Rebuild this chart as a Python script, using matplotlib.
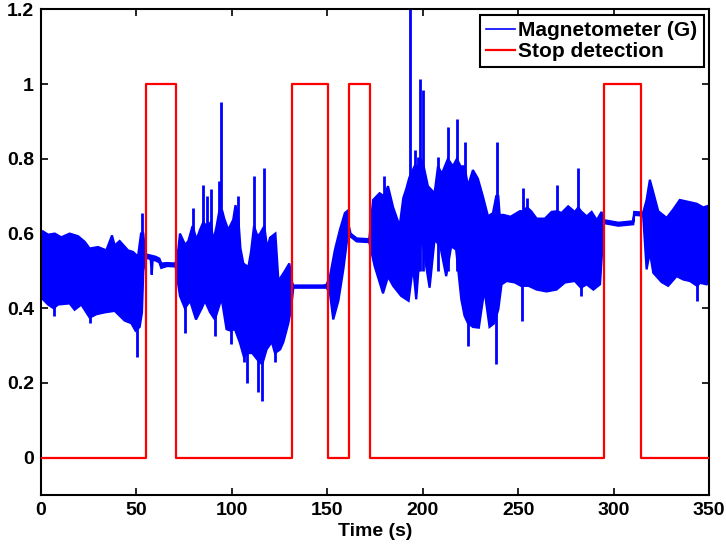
import numpy as np
import matplotlib
matplotlib.use("Agg")
import matplotlib.pyplot as plt

# magnetometer upper envelope (time s, value G)
hi_t = [0.0, 1.0, 3.7, 7.2, 10.6, 15.0, 19.4, 22.9, 25.5, 29.9, 34.2, 37.2, 38.6, 41.2,
        45.6, 48.2, 50.8, 52.4, 53.6, 54.5,
        56.0, 60.0, 62.0, 63.0, 66.0, 70.5,
        72.0, 72.8, 75.5, 77.2, 79.4, 81.5, 83.3, 85.0, 86.8, 88.9, 90.3, 92.0, 93.4, 95.0,
        96.0, 98.1, 100.7, 101.9, 103.4, 104.5, 106.0, 108.6, 110.0, 111.6, 113.4, 114.8,
        117.0, 118.5, 120.0, 122.8, 124.4, 127.8, 130.1, 131.5,
        132.2, 148.0, 149.6,
        151.4, 154.0, 156.6, 159.2, 160.4, 161.3,
        162.2, 165.4, 172.0,
        174.0, 177.4, 179.7, 181.8, 184.5, 187.9, 189.8, 191.4, 193.0, 195.7, 197.4, 199.0,
        200.5, 202.7, 206.2, 208.0, 210.0, 213.2, 215.8, 217.9, 219.8, 221.9, 223.7, 226.3,
        228.9, 231.5, 234.2, 236.8, 238.5, 239.6, 240.3, 242.3, 246.0, 250.9, 252.6, 254.7,
        256.8, 259.7, 264.0, 267.5, 270.6, 272.7, 276.2, 279.7, 281.5, 282.9, 285.9, 288.5,
        291.2, 293.7,
        294.9, 302.5, 310.3, 310.8, 315.5,
        317.3, 319.0, 320.8, 323.4, 327.8, 331.3, 334.7, 338.2, 343.5, 347.0, 350.0]
hi_v = [0.60, 0.606, 0.597, 0.60, 0.59, 0.60, 0.593, 0.578, 0.56, 0.564, 0.555, 0.595, 0.568, 0.58,
        0.555, 0.551, 0.538, 0.60, 0.60, 0.545,
        0.543, 0.538, 0.533, 0.52, 0.521, 0.52,
        0.56, 0.60, 0.57, 0.58, 0.62, 0.584, 0.61, 0.63, 0.62, 0.63, 0.58, 0.62, 0.66, 0.66,
        0.64, 0.61, 0.637, 0.676, 0.64, 0.56, 0.52, 0.51, 0.55, 0.62, 0.593, 0.60,
        0.62, 0.56, 0.589, 0.60, 0.473, 0.50, 0.52, 0.47,
        0.461, 0.461, 0.463,
        0.486, 0.557, 0.61, 0.655, 0.66, 0.62,
        0.600, 0.587, 0.585,
        0.69, 0.708, 0.70, 0.727, 0.67, 0.62, 0.695, 0.72, 0.75, 0.78, 0.78, 0.80,
        0.78, 0.727, 0.708, 0.78, 0.76, 0.80, 0.78, 0.80, 0.78, 0.78, 0.727, 0.77,
        0.747, 0.70, 0.646, 0.655, 0.70, 0.70, 0.65, 0.65, 0.645, 0.66, 0.66, 0.67,
        0.66, 0.64, 0.64, 0.658, 0.66, 0.655, 0.673, 0.658, 0.67, 0.66, 0.646, 0.658,
        0.636, 0.658,
        0.636, 0.629, 0.633, 0.658, 0.656,
        0.69, 0.744, 0.71, 0.66, 0.642, 0.665, 0.69, 0.686, 0.68, 0.67, 0.675]

# magnetometer lower envelope
lo_t = [0.0, 1.0, 3.7, 6.6, 8.9, 15.0, 17.6, 21.1, 25.5, 29.0, 33.4, 38.6, 43.8, 47.3,
        49.5, 51.7, 52.9, 53.6, 54.5,
        56.0, 57.5, 58.0, 58.5, 60.0, 62.0, 63.0, 66.0, 70.5,
        72.8, 75.4, 78.1, 81.2, 84.2, 85.9, 88.5, 91.1, 94.6, 97.2, 99.4, 101.6, 104.2,
        106.3, 108.1, 110.7, 113.8, 115.9, 118.2, 120.9, 122.6, 125.3, 127.0, 129.6, 131.0,
        132.2, 148.0, 149.6,
        151.4, 153.1, 155.8, 158.4, 160.4, 161.3,
        162.2, 165.4, 172.0,
        174.8, 179.2, 181.8, 184.5, 188.7, 192.6, 194.9, 196.6, 199.2, 201.8, 203.6, 206.2,
        209.2, 212.3, 214.9, 217.5, 220.2, 221.9, 223.7, 226.3, 229.4, 232.3, 235.0, 237.5,
        239.6, 241.3, 244.0, 248.3, 251.5, 252.8, 255.5, 259.7, 264.9, 270.1, 274.5,
        279.7, 282.9, 285.9, 289.4, 292.9,
        294.9, 302.5, 310.3, 310.8, 315.5,
        317.3, 319.0, 320.8, 325.2, 328.6, 333.0, 336.5, 340.0, 343.8, 345.3, 348.8, 350.0]
lo_v = [0.43, 0.424, 0.41, 0.40, 0.41, 0.413, 0.396, 0.41, 0.375, 0.384, 0.389, 0.393, 0.367, 0.36,
        0.34, 0.35, 0.389, 0.50, 0.53,
        0.535, 0.53, 0.49, 0.53, 0.528, 0.523, 0.508, 0.513, 0.512,
        0.433, 0.40, 0.42, 0.37, 0.40, 0.42, 0.39, 0.37, 0.427, 0.344, 0.34, 0.344, 0.308,
        0.27, 0.28, 0.28, 0.26, 0.25, 0.29, 0.31, 0.28, 0.29, 0.31, 0.36, 0.40,
        0.455, 0.455, 0.455,
        0.44, 0.37, 0.42, 0.504, 0.584, 0.59,
        0.592, 0.579, 0.577,
        0.513, 0.44, 0.485, 0.46, 0.433, 0.42, 0.513, 0.424, 0.60, 0.513, 0.455, 0.584,
        0.566, 0.486, 0.566, 0.557, 0.424, 0.38, 0.36, 0.35, 0.348, 0.45, 0.35, 0.36,
        0.397, 0.464, 0.473, 0.469, 0.46, 0.46, 0.46, 0.45, 0.445, 0.45, 0.469,
        0.473, 0.455, 0.464, 0.45, 0.464,
        0.628, 0.621, 0.625, 0.65, 0.648,
        0.504, 0.55, 0.495, 0.47, 0.46, 0.486, 0.477, 0.473, 0.46, 0.468, 0.464, 0.47]

# single-sample spikes sticking out of the band
spike_up_t = [52.9, 79.4, 85.0, 86.8, 88.9, 93.4, 94.3, 103.4, 111.6, 117.0, 179.7, 193.3,
              195.7, 197.4, 198.7, 200.1, 208.0, 213.2, 217.9, 221.9, 239.0, 252.6, 254.7,
              270.6, 281.5]
spike_up_v = [0.655, 0.668, 0.73, 0.70, 0.718, 0.74, 0.953, 0.70, 0.753, 0.775, 0.753, 1.25,
              0.824, 0.806, 1.015, 0.984, 0.806, 0.886, 0.908, 0.846, 0.846, 0.722, 0.695,
              0.73, 0.775]
spike_dn_t = [6.6, 25.5, 50.5, 75.4, 91.1, 99.4, 106.3, 108.1, 113.8, 115.9, 122.6, 223.7,
              238.5, 252.1, 282.9, 343.8]
spike_dn_v = [0.38, 0.36, 0.27, 0.335, 0.326, 0.304, 0.255, 0.20, 0.175, 0.153, 0.255, 0.30,
              0.25, 0.366, 0.433, 0.42]

# stop detection (0/1), change points
stop_t = [0, 55.2, 70.5, 131.5, 150.4, 161.5, 172.3, 295.0, 314.6, 350]
stop_v = [0, 1, 0, 1, 0, 1, 0, 1, 0, 0]

xticks = [0, 50, 100, 150, 200, 250, 300, 350]
yticks = [0, 0.2, 0.4, 0.6, 0.8, 1, 1.2]
ytick_labels = ['0', '0.2', '0.4', '0.6', '0.8', '1', '1.2']

plt.rcParams['font.family'] = ['Liberation Sans', 'DejaVu Sans']
plt.rcParams['font.weight'] = 'bold'

fig = plt.figure(figsize=(7.26, 5.48), dpi=100)
ax = fig.add_axes([0.0565, 0.0967, 0.9201, 0.886])

blue = '#0000ff'
# noisy band as polygon: upper path forward, lower path back
px = np.r_[hi_t, lo_t[::-1]]
py = np.r_[hi_v, lo_v[::-1]]
ax.fill(px, py, color=blue, lw=1.6, zorder=2)
ax.vlines(spike_up_t, 0.5, spike_up_v, color=blue, lw=2.0, zorder=2)
ax.vlines(spike_dn_t, 0.5, spike_dn_v, color=blue, lw=2.0, zorder=2)
ax.plot([], [], color=blue, lw=1.2, label='Magnetometer (G)')

ax.plot(stop_t, stop_v, color='#ff0000', lw=1.6, drawstyle='steps-post',
        label='Stop detection', zorder=3)

ax.set_xlim(0, 350)
ax.set_ylim(-0.1, 1.2)
ax.set_xticks(xticks)
ax.set_yticks(yticks)
ax.set_yticklabels(ytick_labels)
ax.tick_params(direction='in', top=True, right=True, length=5, width=1.2,
               labelsize=14, pad=5)
for s in ax.spines.values():
    s.set_linewidth(1.5)
ax.set_xlabel('Time (s)', fontsize=14, fontweight='bold', labelpad=3)

leg = ax.legend(loc='upper right', fontsize=15, handlelength=1.4, handletextpad=0.15,
                borderaxespad=0.25, borderpad=0.3, labelspacing=0.1, fancybox=False,
                framealpha=1)
leg.get_frame().set_edgecolor('black')
leg.get_frame().set_linewidth(1.5)

fig.savefig('out.png', dpi=100)
